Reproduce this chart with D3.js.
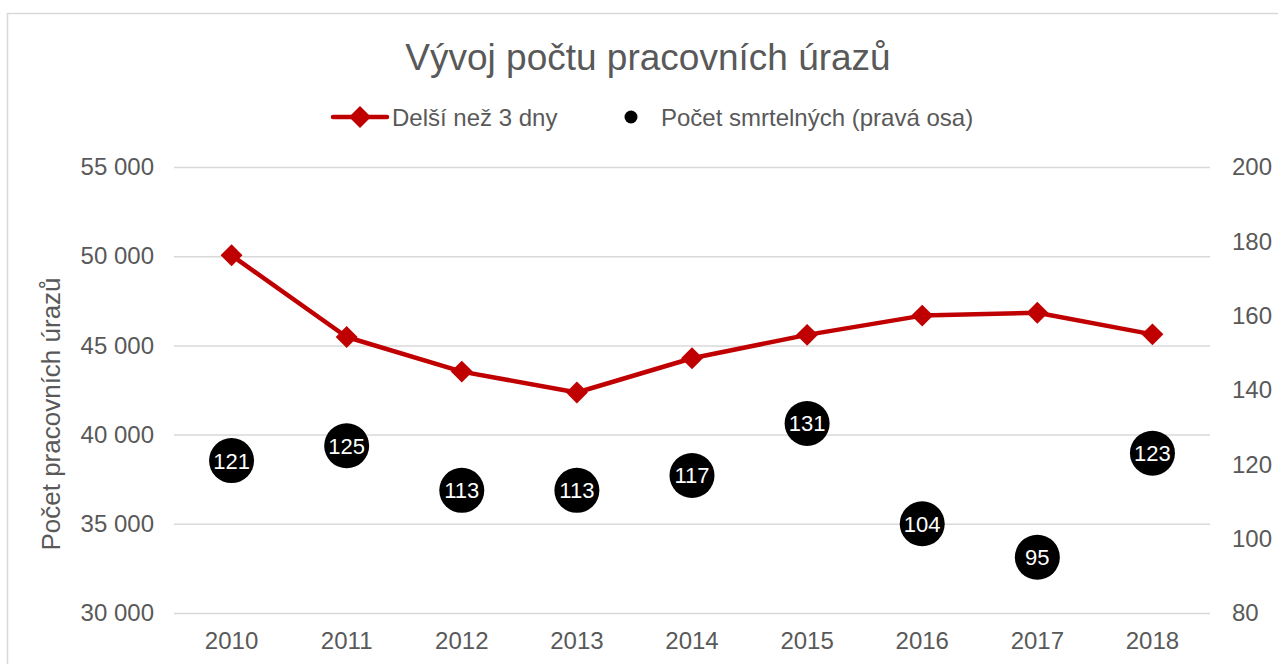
<!DOCTYPE html>
<html>
<head>
<meta charset="utf-8">
<script src="https://cdn.jsdelivr.net/npm/d3@7"></script>
<style>
  body { margin: 0; background: #fff; }
  text { font-family: "Liberation Sans", Arial, sans-serif; }
</style>
</head>
<body>
<div id="vis"></div>
<script>
// chart data
const years = ['2010', '2011', '2012', '2013', '2014', '2015', '2016', '2017', '2018']
const longerThan3Days = [50050, 45470, 43530, 42360, 44280, 45590, 46670, 46830, 45620]
const fatal = [121, 125, 113, 113, 117, 131, 104, 95, 123]
const leftTicks = [30000, 35000, 40000, 45000, 50000, 55000]
const rightTicks = [80, 100, 120, 140, 160, 180, 200]

const width = 1278
const height = 664
const plot = { left: 174, right: 1210, top: 167, bottom: 613 }
const grey = '#595959'
const red = '#c00000'
const font = '"Liberation Sans", Arial, sans-serif'

const svg = d3.select('#vis')
  .append('svg')
  .attr('width', width)
  .attr('height', height)

// outer frame of the chart
svg.append('rect')
  .attr('x', 7.5).attr('y', 13.5)
  .attr('width', width + 10).attr('height', height + 10)
  .attr('fill', 'none')
  .attr('stroke', '#d9d9d9')
  .attr('stroke-width', 1.5)

const cz = d3.formatLocale({ decimal: ',', thousands: ' ', grouping: [3], currency: ['', ' Kč'] })
const fmt = cz.format(',')

const x = d3.scaleBand().domain(years).range([plot.left, plot.right])
const yLeft = d3.scaleLinear().domain([30000, 55000]).range([plot.bottom, plot.top])
const yRight = d3.scaleLinear().domain([80, 200]).range([plot.bottom, plot.top])

// gridlines + left axis
const leftAxis = svg.append('g')
  .attr('transform', `translate(${plot.left},0)`)
  .call(d3.axisLeft(yLeft).tickValues(leftTicks).tickFormat(fmt)
    .tickSize(-(plot.right - plot.left)).tickPadding(20))
leftAxis.select('.domain').remove()
leftAxis.selectAll('line').attr('stroke', '#d9d9d9').attr('stroke-width', 1.5)
leftAxis.selectAll('text').attr('fill', grey).attr('font-size', 24).attr('font-family', font)

// right axis
const rightAxis = svg.append('g')
  .attr('transform', `translate(${plot.right},0)`)
  .call(d3.axisRight(yRight).tickValues(rightTicks).tickSize(0).tickPadding(22))
rightAxis.select('.domain').remove()
rightAxis.selectAll('text').attr('fill', grey).attr('font-size', 24).attr('font-family', font)

// x axis labels
const bottomAxis = svg.append('g')
  .attr('transform', `translate(0,${plot.bottom})`)
  .call(d3.axisBottom(x).tickSize(0).tickPadding(19))
bottomAxis.select('.domain').remove()
bottomAxis.selectAll('text').attr('fill', grey).attr('font-size', 24).attr('font-family', font)

const cx = d => x(d) + x.bandwidth() / 2

// red line with diamonds
const line = d3.line()
  .x((d, i) => cx(years[i]))
  .y(d => yLeft(d))

svg.append('path')
  .datum(longerThan3Days)
  .attr('d', line)
  .attr('fill', 'none')
  .attr('stroke', red)
  .attr('stroke-width', 4.5)
  .attr('stroke-linejoin', 'round')

const diamond = d3.symbol().type(d3.symbolSquare).size(240)
svg.selectAll('.diamond')
  .data(longerThan3Days)
  .enter()
  .append('path')
  .attr('class', 'diamond')
  .attr('d', diamond)
  .attr('transform', (d, i) => `translate(${cx(years[i])},${yLeft(d)}) rotate(45)`)
  .attr('fill', red)

// fatal injuries as bubbles (right axis)
svg.selectAll('.fatal')
  .data(fatal)
  .enter()
  .append('circle')
  .attr('class', 'fatal')
  .attr('cx', (d, i) => cx(years[i]))
  .attr('cy', d => yRight(d))
  .attr('r', 22.5)
  .attr('fill', '#000')

svg.selectAll('.fatal-label')
  .data(fatal)
  .enter()
  .append('text')
  .attr('class', 'fatal-label')
  .attr('x', (d, i) => cx(years[i]))
  .attr('y', d => yRight(d) + 8)
  .attr('text-anchor', 'middle')
  .attr('font-size', 22)
  .attr('fill', '#fff')
  .text(d => d)

// title
svg.append('text')
  .attr('x', 648)
  .attr('y', 70)
  .attr('text-anchor', 'middle')
  .attr('font-size', 37)
  .attr('fill', grey)
  .text('Vývoj počtu pracovních úrazů')

// y axis title
svg.append('text')
  .attr('transform', 'translate(60,414) rotate(-90)')
  .attr('text-anchor', 'middle')
  .attr('font-size', 26)
  .attr('fill', grey)
  .text('Počet pracovních úrazů')

// legend
const legend = svg.append('g').attr('transform', 'translate(0,117)')
legend.append('line')
  .attr('x1', 333).attr('x2', 387)
  .attr('stroke', red).attr('stroke-width', 4.5).attr('stroke-linecap', 'round')
legend.append('path')
  .attr('d', diamond)
  .attr('transform', 'translate(360,0) rotate(45)')
  .attr('fill', red)
legend.append('text')
  .attr('x', 392).attr('y', 8.5)
  .attr('font-size', 24).attr('fill', grey)
  .text('Delší než 3 dny')
legend.append('circle')
  .attr('cx', 631).attr('r', 6.5)
  .attr('fill', '#000')
legend.append('text')
  .attr('x', 661).attr('y', 8.5)
  .attr('font-size', 24).attr('fill', grey)
  .text('Počet smrtelných (pravá osa)')
</script>
</body>
</html>
